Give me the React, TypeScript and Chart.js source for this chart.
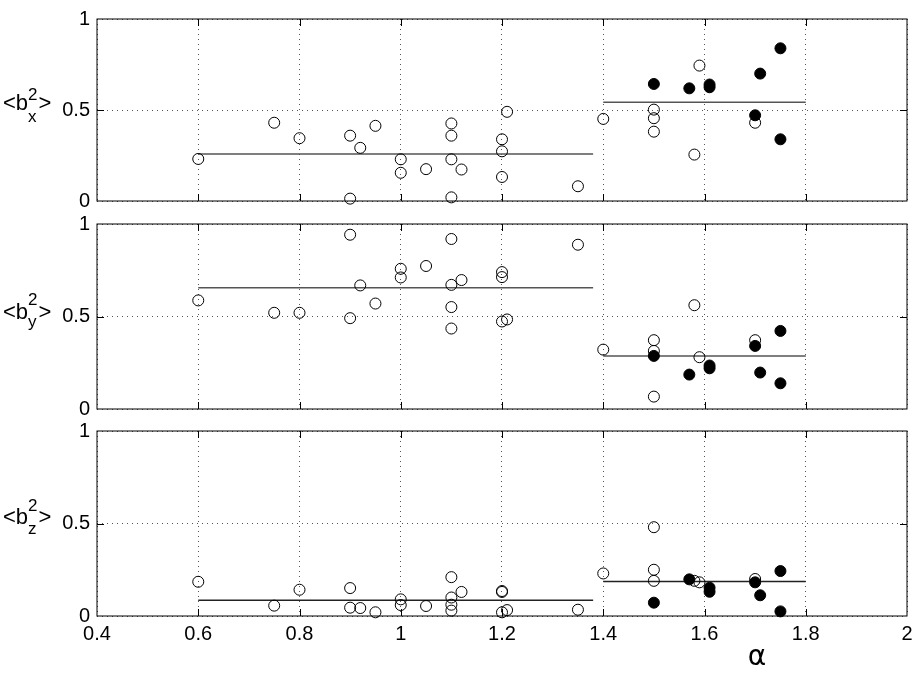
import React, { useEffect, useRef } from 'react';
import { Chart, registerables } from 'chart.js';

Chart.register(...registerables);

// ---- axis ticks ----
const X_MIN = 0.4;
const X_MAX = 2;
const X_TICKS = [0.4, 0.6, 0.8, 1, 1.2, 1.4, 1.6, 1.8, 2];
const X_TICK_LABELS = ['0.4', '0.6', '0.8', '1', '1.2', '1.4', '1.6', '1.8', '2'];
const Y_TICKS = [0, 0.5, 1];
const Y_TICK_LABELS = ['0', '0.5', '1'];

// ---- open circles (alpha values shared by the three panels) ----
const OPEN_ALPHA = [0.6, 0.75, 0.8, 0.9, 0.9, 0.92, 0.95, 1, 1, 1.05, 1.1, 1.1, 1.1, 1.1, 1.12, 1.2, 1.2, 1.2, 1.21, 1.35, 1.4, 1.5, 1.5, 1.5, 1.58, 1.59, 1.7];
const OPEN_BX = [0.231, 0.43, 0.345, 0.359, 0.013, 0.292, 0.413, 0.229, 0.155, 0.175, 0.426, 0.359, 0.229, 0.02, 0.173, 0.339, 0.273, 0.132, 0.49, 0.081, 0.451, 0.502, 0.455, 0.381, 0.255, 0.744, 0.43];
const OPEN_BY = [0.587, 0.52, 0.52, 0.942, 0.491, 0.668, 0.57, 0.758, 0.711, 0.773, 0.919, 0.671, 0.551, 0.435, 0.697, 0.74, 0.713, 0.473, 0.484, 0.888, 0.321, 0.372, 0.314, 0.067, 0.561, 0.28, 0.372];
const OPEN_BZ = [0.185, 0.056, 0.142, 0.151, 0.045, 0.043, 0.02, 0.09, 0.059, 0.054, 0.21, 0.1, 0.061, 0.029, 0.13, 0.135, 0.13, 0.02, 0.032, 0.034, 0.23, 0.48, 0.25, 0.19, 0.19, 0.182, 0.2];

// ---- filled circles ----
const FILLED_ALPHA = [1.5, 1.57, 1.61, 1.61, 1.7, 1.71, 1.75, 1.75];
const FILLED_BX = [0.643, 0.619, 0.625, 0.64, 0.471, 0.7, 0.839, 0.339];
const FILLED_BY = [0.287, 0.186, 0.235, 0.22, 0.341, 0.197, 0.422, 0.139];
const FILLED_BZ = [0.072, 0.198, 0.153, 0.131, 0.182, 0.112, 0.243, 0.025];

// ---- mean lines: [low group, high group] ----
const MEAN_LOW_RANGE = [0.6, 1.38];
const MEAN_HIGH_RANGE = [1.4, 1.8];
const MEAN_BX = [0.258, 0.542];
const MEAN_BY = [0.655, 0.287];
const MEAN_BZ = [0.085, 0.187];

// ---- layout / style ----
const W = 919;
const H = 685;
const FONT = '"Liberation Sans", Arial, Helvetica, sans-serif';
const X_AXIS_H = 40;

const PANELS = [
  { sub: 'x', open: OPEN_BX, filled: FILLED_BX, mean: MEAN_BX, top: 16, bottom: 201, base: 0, supDy: -10, subDy: 12, showX: false, meanColor: '#555' },
  { sub: 'y', open: OPEN_BY, filled: FILLED_BY, mean: MEAN_BY, top: 224, bottom: 409, base: 2.5, supDy: -14, subDy: 8, showX: false, meanColor: '#555' },
  { sub: 'z', open: OPEN_BZ, filled: FILLED_BZ, mean: MEAN_BZ, top: 431, bottom: 616, base: 0, supDy: -13, subDy: 10, showX: true, meanColor: '#222' },
];

function pts(xs: number[], ys: number[]) {
  return xs.map((x, i) => ({ x, y: ys[i] }));
}

function makeChart(canvas: HTMLCanvasElement, p: any) {
  const framePlugin = {
    id: 'frame' + p.sub,
    beforeDatasetsDraw(chart: any) {
      const { ctx, chartArea: a, scales } = chart;
      ctx.save();
      ctx.strokeStyle = '#000';
      ctx.lineWidth = 1;
      ctx.strokeRect(a.left, a.top, a.right - a.left, a.bottom - a.top);
      ctx.beginPath();
      for (const t of X_TICKS) {
        if (t <= X_MIN || t >= X_MAX) continue;
        const px = Math.round(scales.x.getPixelForValue(t)) + 0.5;
        ctx.moveTo(px, a.bottom);
        ctx.lineTo(px, a.bottom - 7);
        ctx.moveTo(px, a.top);
        ctx.lineTo(px, a.top + 7);
      }
      for (const t of Y_TICKS) {
        if (t <= 0 || t >= 1) continue;
        const py = Math.round(scales.y.getPixelForValue(t)) + 0.5;
        ctx.moveTo(a.left, py);
        ctx.lineTo(a.left + 7, py);
        ctx.moveTo(a.right, py);
        ctx.lineTo(a.right - 7, py);
      }
      ctx.stroke();
      ctx.restore();
    },
    afterDraw(chart: any) {
      const { ctx, chartArea: a } = chart;
      ctx.save();
      ctx.fillStyle = '#000';
      ctx.textAlign = 'left';
      ctx.textBaseline = 'alphabetic';
      const cy = (a.top + a.bottom) / 2 + p.base;
      let x = 3;
      ctx.font = '22px ' + FONT;
      ctx.fillText('<b', x, cy);
      x += ctx.measureText('<b').width;
      ctx.font = '17px ' + FONT;
      ctx.fillText('2', x, cy + p.supDy);
      ctx.fillText(p.sub, x, cy + p.subDy);
      x += Math.max(ctx.measureText('2').width, ctx.measureText(p.sub).width) + 1;
      ctx.font = '22px ' + FONT;
      ctx.fillText('>', x, cy);
      if (p.showX) {
        ctx.font = '28px "DejaVu Sans", sans-serif';
        ctx.textAlign = 'center';
        ctx.textBaseline = 'middle';
        ctx.fillText('α', 757, 658);
      }
      ctx.restore();
    },
  };

  const meanStyle = {
    showLine: true,
    borderColor: p.meanColor,
    borderWidth: 1.5,
    pointRadius: 0,
    fill: false,
  };

  const xH = p.showX ? X_AXIS_H : 0;

  return new Chart(canvas, {
    type: 'scatter',
    data: {
      datasets: [
        {
          data: pts(FILLED_ALPHA, p.filled),
          backgroundColor: '#000',
          borderColor: '#000',
          borderWidth: 1,
          pointRadius: 5.5,
        },
        {
          data: pts(OPEN_ALPHA, p.open),
          backgroundColor: 'rgba(0,0,0,0)',
          borderColor: '#000',
          borderWidth: 1,
          pointRadius: 5.5,
        },
        { data: pts(MEAN_LOW_RANGE, [p.mean[0], p.mean[0]]), ...meanStyle },
        { data: pts(MEAN_HIGH_RANGE, [p.mean[1], p.mean[1]]), ...meanStyle },
      ] as any,
    },
    options: {
      animation: false,
      responsive: false,
      maintainAspectRatio: false,
      events: [],
      clip: false as any,
      layout: { padding: { top: p.top, bottom: H - p.bottom - xH, left: 0, right: W - 907 } },
      plugins: { legend: { display: false }, tooltip: { enabled: false } },
      scales: {
        x: {
          type: 'linear',
          min: X_MIN,
          max: X_MAX,
          afterBuildTicks: (s: any) => {
            s.ticks = X_TICKS.map((v) => ({ value: v }));
          },
          afterFit: (s: any) => {
            s.height = xH;
          },
          grid: { display: true, color: '#555', lineWidth: 1, drawTicks: false },
          border: { display: false, dash: [1, 4] },
          ticks: {
            display: p.showX,
            padding: 6,
            color: '#000',
            font: { family: FONT, size: 20 },
            maxRotation: 0,
            autoSkip: false,
            callback: (v: any) => {
              const i = X_TICKS.findIndex((t) => Math.abs(t - v) < 1e-6);
              return i >= 0 ? X_TICK_LABELS[i] : '';
            },
          },
        },
        y: {
          type: 'linear',
          min: 0,
          max: 1,
          afterBuildTicks: (s: any) => {
            s.ticks = Y_TICKS.map((v) => ({ value: v }));
          },
          afterFit: (s: any) => {
            s.width = 97;
          },
          grid: { display: true, color: '#555', lineWidth: 1, drawTicks: false },
          border: { display: false, dash: [1, 4] },
          ticks: {
            padding: 7,
            color: '#000',
            font: { family: FONT, size: 20 },
            callback: (v: any) => {
              const i = Y_TICKS.findIndex((t) => Math.abs(t - v) < 1e-6);
              return i >= 0 ? Y_TICK_LABELS[i] : '';
            },
          },
        },
      },
    } as any,
    plugins: [framePlugin],
  });
}

export default function App() {
  const r0 = useRef<HTMLCanvasElement>(null);
  const r1 = useRef<HTMLCanvasElement>(null);
  const r2 = useRef<HTMLCanvasElement>(null);

  useEffect(() => {
    const refs = [r0, r1, r2];
    const charts = PANELS.map((p, i) => makeChart(refs[i].current as HTMLCanvasElement, p));
    return () => charts.forEach((c) => c.destroy());
  }, []);

  const cs: React.CSSProperties = { position: 'absolute', left: 0, top: 0, width: W, height: H };
  return (
    <div style={{ position: 'absolute', left: 0, top: 0, width: W, height: H, background: '#fff' }}>
      <canvas ref={r0} width={W} height={H} style={cs} />
      <canvas ref={r1} width={W} height={H} style={cs} />
      <canvas ref={r2} width={W} height={H} style={cs} />
    </div>
  );
}
